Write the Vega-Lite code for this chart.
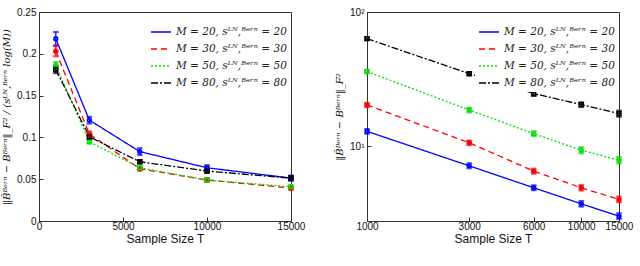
{
  "$schema": "https://vega.github.io/schema/vega-lite/v6.json",
  "padding": {"left": 1, "top": 6, "right": 2, "bottom": 0},
  "spacing": 28,
  "datasets": {
    "left": [
      {"series": "M = 20, sᴸᴺ,ᴮᵉʳⁿ = 20", "T": 1000, "v": 0.218, "lo": 0.210, "hi": 0.226},
      {"series": "M = 20, sᴸᴺ,ᴮᵉʳⁿ = 20", "T": 3000, "v": 0.1206, "lo": 0.1166, "hi": 0.1246},
      {"series": "M = 20, sᴸᴺ,ᴮᵉʳⁿ = 20", "T": 6000, "v": 0.083, "lo": 0.079, "hi": 0.087},
      {"series": "M = 20, sᴸᴺ,ᴮᵉʳⁿ = 20", "T": 10000, "v": 0.0637, "lo": 0.0607, "hi": 0.0667},
      {"series": "M = 20, sᴸᴺ,ᴮᵉʳⁿ = 20", "T": 15000, "v": 0.0513, "lo": 0.0483, "hi": 0.0543},
      {"series": "M = 30, sᴸᴺ,ᴮᵉʳⁿ = 30", "T": 1000, "v": 0.203, "lo": 0.197, "hi": 0.209},
      {"series": "M = 30, sᴸᴺ,ᴮᵉʳⁿ = 30", "T": 3000, "v": 0.104, "lo": 0.101, "hi": 0.107},
      {"series": "M = 30, sᴸᴺ,ᴮᵉʳⁿ = 30", "T": 6000, "v": 0.0625, "lo": 0.0605, "hi": 0.0645},
      {"series": "M = 30, sᴸᴺ,ᴮᵉʳⁿ = 30", "T": 10000, "v": 0.049, "lo": 0.047, "hi": 0.051},
      {"series": "M = 30, sᴸᴺ,ᴮᵉʳⁿ = 30", "T": 15000, "v": 0.0394, "lo": 0.0374, "hi": 0.0414},
      {"series": "M = 50, sᴸᴺ,ᴮᵉʳⁿ = 50", "T": 1000, "v": 0.186, "lo": 0.182, "hi": 0.190},
      {"series": "M = 50, sᴸᴺ,ᴮᵉʳⁿ = 50", "T": 3000, "v": 0.0947, "lo": 0.0927, "hi": 0.0967},
      {"series": "M = 50, sᴸᴺ,ᴮᵉʳⁿ = 50", "T": 6000, "v": 0.0637, "lo": 0.0617, "hi": 0.0657},
      {"series": "M = 50, sᴸᴺ,ᴮᵉʳⁿ = 50", "T": 10000, "v": 0.049, "lo": 0.047, "hi": 0.051},
      {"series": "M = 50, sᴸᴺ,ᴮᵉʳⁿ = 50", "T": 15000, "v": 0.041, "lo": 0.039, "hi": 0.043},
      {"series": "M = 80, sᴸᴺ,ᴮᵉʳⁿ = 80", "T": 1000, "v": 0.181, "lo": 0.177, "hi": 0.185},
      {"series": "M = 80, sᴸᴺ,ᴮᵉʳⁿ = 80", "T": 3000, "v": 0.1007, "lo": 0.0977, "hi": 0.1037},
      {"series": "M = 80, sᴸᴺ,ᴮᵉʳⁿ = 80", "T": 6000, "v": 0.0709, "lo": 0.0689, "hi": 0.0729},
      {"series": "M = 80, sᴸᴺ,ᴮᵉʳⁿ = 80", "T": 10000, "v": 0.0597, "lo": 0.0577, "hi": 0.0617},
      {"series": "M = 80, sᴸᴺ,ᴮᵉʳⁿ = 80", "T": 15000, "v": 0.0513, "lo": 0.0488, "hi": 0.0538}
    ],
    "right": [
      {"series": "M = 20, sᴸᴺ,ᴮᵉʳⁿ = 20", "T": 1000, "v": 12.9, "lo": 12.4, "hi": 13.4},
      {"series": "M = 20, sᴸᴺ,ᴮᵉʳⁿ = 20", "T": 3000, "v": 7.14, "lo": 6.85, "hi": 7.45},
      {"series": "M = 20, sᴸᴺ,ᴮᵉʳⁿ = 20", "T": 6000, "v": 4.9, "lo": 4.7, "hi": 5.1},
      {"series": "M = 20, sᴸᴺ,ᴮᵉʳⁿ = 20", "T": 10000, "v": 3.72, "lo": 3.55, "hi": 3.9},
      {"series": "M = 20, sᴸᴺ,ᴮᵉʳⁿ = 20", "T": 15000, "v": 3.01, "lo": 2.87, "hi": 3.16},
      {"series": "M = 30, sᴸᴺ,ᴮᵉʳⁿ = 30", "T": 1000, "v": 20.3, "lo": 19.6, "hi": 21.0},
      {"series": "M = 30, sᴸᴺ,ᴮᵉʳⁿ = 30", "T": 3000, "v": 10.6, "lo": 10.2, "hi": 11.0},
      {"series": "M = 30, sᴸᴺ,ᴮᵉʳⁿ = 30", "T": 6000, "v": 6.52, "lo": 6.25, "hi": 6.8},
      {"series": "M = 30, sᴸᴺ,ᴮᵉʳⁿ = 30", "T": 10000, "v": 4.9, "lo": 4.68, "hi": 5.12},
      {"series": "M = 30, sᴸᴺ,ᴮᵉʳⁿ = 30", "T": 15000, "v": 4.01, "lo": 3.82, "hi": 4.21},
      {"series": "M = 50, sᴸᴺ,ᴮᵉʳⁿ = 50", "T": 1000, "v": 36.0, "lo": 34.9, "hi": 37.1},
      {"series": "M = 50, sᴸᴺ,ᴮᵉʳⁿ = 50", "T": 3000, "v": 18.6, "lo": 17.9, "hi": 19.3},
      {"series": "M = 50, sᴸᴺ,ᴮᵉʳⁿ = 50", "T": 6000, "v": 12.4, "lo": 11.9, "hi": 12.9},
      {"series": "M = 50, sᴸᴺ,ᴮᵉʳⁿ = 50", "T": 10000, "v": 9.33, "lo": 8.85, "hi": 9.8},
      {"series": "M = 50, sᴸᴺ,ᴮᵉʳⁿ = 50", "T": 15000, "v": 7.87, "lo": 7.45, "hi": 8.3},
      {"series": "M = 80, sᴸᴺ,ᴮᵉʳⁿ = 80", "T": 1000, "v": 63.3, "lo": 61.8, "hi": 64.8},
      {"series": "M = 80, sᴸᴺ,ᴮᵉʳⁿ = 80", "T": 3000, "v": 34.7, "lo": 33.7, "hi": 35.7},
      {"series": "M = 80, sᴸᴺ,ᴮᵉʳⁿ = 80", "T": 6000, "v": 24.7, "lo": 23.7, "hi": 25.7},
      {"series": "M = 80, sᴸᴺ,ᴮᵉʳⁿ = 80", "T": 10000, "v": 20.4, "lo": 19.6, "hi": 21.2},
      {"series": "M = 80, sᴸᴺ,ᴮᵉʳⁿ = 80", "T": 15000, "v": 17.5, "lo": 16.6, "hi": 18.4}
    ]
  },
  "resolve": {"scale": {"color": "independent", "stroke": "independent", "strokeDash": "independent", "shape": "independent"}, "legend": {"color": "independent", "strokeDash": "independent"}},
  "hconcat": [
    {
      "width": 252,
      "height": 209,
      "data": {"name": "left"},
      "encoding": {
        "x": {"field": "T", "type": "quantitative", "scale": {"domain": [0, 15000], "nice": false},
              "axis": {"values": [0, 5000, 10000, 15000], "format": "d", "title": "Sample Size T"}}
      },
      "layer": [
        {"mark": {"type": "line", "strokeWidth": 1.3},
         "encoding": {"y": {"field": "v", "type": "quantitative", "scale": {"domain": [0, 0.25], "nice": false},
                            "axis": {"values": [0, 0.05, 0.1, 0.15, 0.2, 0.25], "format": "~g",
                                     "title": "‖B̂ᴮᵉʳⁿ − Bᴮᵉʳⁿ‖_F² / (sᴸᴺ,ᴮᵉʳⁿ log(M))"}},
                      "color": {"field": "series", "type": "nominal",
                                "scale": {"range": ["#0000ff", "#ff0000", "#00e000", "#000000"]},
                                "legend": {"orient": "none", "legendX": 108, "legendY": 6, "title": null}},
                      "strokeDash": {"field": "series", "type": "nominal",
                                     "scale": {"range": [[1, 0], [6, 4], [2, 2], [7, 2, 2, 2]]},
                                     "legend": {"orient": "none", "legendX": 108, "legendY": 6, "title": null}}}},
        {"mark": {"type": "errorbar", "ticks": {"size": 5}, "thickness": 1.2},
         "encoding": {"y": {"field": "lo", "type": "quantitative", "title": "‖B̂ᴮᵉʳⁿ − Bᴮᵉʳⁿ‖_F² / (sᴸᴺ,ᴮᵉʳⁿ log(M))"}, "y2": {"field": "hi"},
                      "stroke": {"field": "series", "type": "nominal", "legend": null,
                                 "scale": {"range": ["#0000ff", "#ff0000", "#00e000", "#000000"]}}}},
        {"mark": {"type": "point", "filled": false, "size": 14, "strokeWidth": 1.6, "opacity": 1},
         "encoding": {"y": {"field": "v", "type": "quantitative", "title": "‖B̂ᴮᵉʳⁿ − Bᴮᵉʳⁿ‖_F² / (sᴸᴺ,ᴮᵉʳⁿ log(M))"},
                      "stroke": {"field": "series", "type": "nominal", "legend": null,
                                 "scale": {"range": ["#0000ff", "#ff0000", "#00e000", "#000000"]}},
                      "shape": {"field": "series", "type": "nominal", "legend": null,
                                "scale": {"range": ["circle", "cross", "circle", "square"]}}}}
      ]
    },
    {
      "width": 252,
      "height": 209,
      "data": {"name": "right"},
      "encoding": {
        "x": {"field": "T", "type": "quantitative", "scale": {"type": "log", "domain": [1000, 15000], "nice": false},
              "axis": {"values": [1000, 3000, 6000, 10000, 15000], "format": "d", "title": "Sample Size T"}}
      },
      "layer": [
        {"mark": {"type": "line", "strokeWidth": 1.3},
         "encoding": {"y": {"field": "v", "type": "quantitative", "scale": {"type": "log", "domain": [2.77, 100], "nice": false},
                            "axis": {"values": [10, 100], "labelExpr": "datum.value == 100 ? '10²' : '10¹'",
                                     "title": "‖B̂ᴮᵉʳⁿ − Bᴮᵉʳⁿ‖_F²"}},
                      "color": {"field": "series", "type": "nominal",
                                "scale": {"range": ["#0000ff", "#ff0000", "#00e000", "#000000"]},
                                "legend": {"orient": "none", "legendX": 108, "legendY": 6, "title": null}},
                      "strokeDash": {"field": "series", "type": "nominal",
                                     "scale": {"range": [[1, 0], [6, 4], [2, 2], [7, 2, 2, 2]]},
                                     "legend": {"orient": "none", "legendX": 108, "legendY": 6, "title": null}}}},
        {"mark": {"type": "errorbar", "ticks": {"size": 5}, "thickness": 1.2},
         "encoding": {"y": {"field": "lo", "type": "quantitative", "title": "‖B̂ᴮᵉʳⁿ − Bᴮᵉʳⁿ‖_F²"}, "y2": {"field": "hi"},
                      "stroke": {"field": "series", "type": "nominal", "legend": null,
                                 "scale": {"range": ["#0000ff", "#ff0000", "#00e000", "#000000"]}}}},
        {"mark": {"type": "point", "filled": false, "size": 14, "strokeWidth": 1.6, "opacity": 1},
         "encoding": {"y": {"field": "v", "type": "quantitative", "title": "‖B̂ᴮᵉʳⁿ − Bᴮᵉʳⁿ‖_F²"},
                      "stroke": {"field": "series", "type": "nominal", "legend": null,
                                 "scale": {"range": ["#0000ff", "#ff0000", "#00e000", "#000000"]}},
                      "shape": {"field": "series", "type": "nominal", "legend": null,
                                "scale": {"range": ["circle", "cross", "circle", "square"]}}}}
      ]
    }
  ],
  "config": {
    "view": {"stroke": "#333333", "strokeWidth": 1},
    "axis": {"grid": false, "domainColor": "#333333", "tickColor": "#333333", "tickSize": -4,
             "labelFont": "Liberation Sans", "labelFontSize": 10, "labelColor": "#111111", "labelPadding": 4,
             "labelFlush": false, "labelOverlap": false,
             "titleFont": "Liberation Sans", "titleFontSize": 12, "titleFontWeight": "normal", "titleColor": "#111111", "titlePadding": 2},
    "axisY": {"titleFont": "DejaVu Serif", "titleFontSize": 10, "titleFontStyle": "italic", "titlePadding": 5, "labelPadding": 7},
    "legend": {"symbolType": "stroke", "symbolSize": 400, "symbolStrokeWidth": 1.5, "labelFont": "DejaVu Serif",
               "labelFontStyle": "italic", "labelFontSize": 10.5, "labelColor": "#222222", "rowPadding": 0,
               "fillColor": "white", "padding": 3, "labelLimit": 300}
  }
}
